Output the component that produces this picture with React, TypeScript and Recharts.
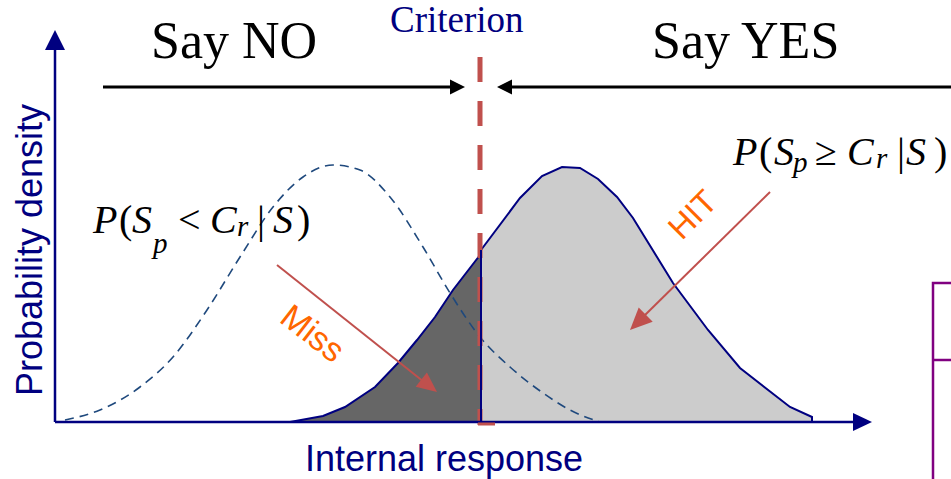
import React from 'react';
import { ComposedChart, Area, Line, XAxis, YAxis, ReferenceLine } from 'recharts';

// Internal response (x) and probability density (y), arbitrary units
const noiseX = [10, 45, 85, 118, 152, 185, 218, 248, 278, 305, 335, 368, 395, 425, 455, 488, 515, 545];
const noiseY = [2, 12, 35, 65, 112, 165, 215, 245, 257, 252, 225, 175, 129, 85, 55, 29, 12, 0];
const missX = [235, 268, 290, 320, 343, 362, 380, 398, 425];
const missY = [0, 6, 15, 35, 59, 82, 105, 132, 167];
const hitX = [426, 465, 487, 507, 525, 543, 562, 578, 618, 653, 685, 735, 757, 757];
const hitY = [172, 224, 246, 255, 254, 243, 225, 204, 139, 92, 54, 15, 5, 0];
const criterion = 425;
const xMax = 817;
const yMax = 392;

const noiseData = noiseX.map((x, i) => ({ x, y: noiseY[i] }));
const missData = missX.map((x, i) => ({ x, y: missY[i] }));
const hitData = hitX.map((x, i) => ({ x, y: hitY[i] }));

const NAVY = '#000080';
const RED = '#c0504d';
const ORANGE = '#ff6600';
const SERIF = '"Liberation Serif", "Times New Roman", serif';
const SANS = '"Liberation Sans", Arial, sans-serif';

type G = { t: string; x: number; it?: boolean; dy?: number };

const Formula = ({ glyphs, y }: { glyphs: G[]; y: number }) => (
  <g fontFamily={SERIF} fill="#000">
    {glyphs.map((g, i) => (
      <text
        key={i}
        x={g.x}
        y={y + (g.dy ?? 0)}
        fontStyle={g.it ? 'italic' : 'normal'}
        fontSize={g.dy !== undefined ? 29 : 40}
      >
        {g.t}
      </text>
    ))}
  </g>
);

const f1: G[] = [
  { t: 'P', x: 93, it: true },
  { t: '(', x: 119 },
  { t: 'S', x: 132, it: true },
  { t: 'p', x: 153, it: true, dy: 20 },
  { t: '<', x: 178 },
  { t: 'C', x: 210, it: true },
  { t: 'r', x: 237, it: true, dy: 3 },
  { t: '|', x: 257 },
  { t: 'S', x: 273, it: true },
  { t: ')', x: 297 },
];
const f2: G[] = [
  { t: 'P', x: 733, it: true },
  { t: '(', x: 759 },
  { t: 'S', x: 774, it: true },
  { t: 'p', x: 793, it: true, dy: 7 },
  { t: '\u2265', x: 815 },
  { t: 'C', x: 847, it: true },
  { t: 'r', x: 876, it: true, dy: 3 },
  { t: '|', x: 897 },
  { t: 'S', x: 906, it: true },
  { t: ')', x: 934 },
];

const Annotations = () => (
  <svg
    width={951}
    height={479}
    style={{ position: 'absolute', left: 0, top: 0, pointerEvents: 'none', overflow: 'visible' }}
  >
    {/* axis arrowheads */}
    <polygon points="55,30 45,50 65,50" fill={NAVY} />
    <polygon points="872,422 853,413 853,431" fill={NAVY} />
    {/* top labels */}
    <text x={151} y={58} fontFamily={SERIF} fontSize={52} fill="#000">Say NO</text>
    <text x={652} y={58} fontFamily={SERIF} fontSize={52} fill="#000">Say YES</text>
    <text x={390} y={32} fontFamily={SERIF} fontSize={37} fill={NAVY}>Criterion</text>
    {/* say no / say yes arrows */}
    <line x1={103} y1={87} x2={452} y2={87} stroke="#000" strokeWidth={3} />
    <polygon points="465,87 450,79.5 450,94.5" fill="#000" />
    <line x1={510} y1={87} x2={951} y2={87} stroke="#000" strokeWidth={3} />
    <polygon points="497,87 512,79.5 512,94.5" fill="#000" />
    {/* axis titles */}
    <text x={42} y={250} fontFamily={SANS} fontSize={36} fill={NAVY} textAnchor="middle" transform="rotate(-90 42 250)">
      Probability density
    </text>
    <text x={444} y={471} fontFamily={SANS} fontSize={36} fill={NAVY} textAnchor="middle">Internal response</text>
    {/* formulas */}
    <Formula glyphs={f1} y={233} />
    <Formula glyphs={f2} y={165} />
    {/* red pointer arrows */}
    <line x1={277} y1={265} x2={424} y2={382} stroke={RED} strokeWidth={2} />
    <polygon points="437,392 415.7,386.7 426.9,372.5" fill={RED} />
    <line x1={770} y1={192} x2={643} y2={317} stroke={RED} strokeWidth={2} />
    <polygon points="630,330 652.7,321.7 638.7,307.5" fill={RED} />
    {/* rotated labels */}
    <text x={313} y={345} fontFamily={SANS} fontSize={34} fill={ORANGE} textAnchor="middle" transform="rotate(38 313 333)">Miss</text>
    <text x={692} y={226} fontFamily={SANS} fontSize={33} fill={ORANGE} textAnchor="middle" transform="rotate(-45 692 214)">HIT</text>
    {/* small red tick under the axis */}
    <line x1={478} y1={424} x2={495} y2={424} stroke={RED} strokeWidth={3} />
    {/* purple box at right edge */}
    <polyline points="951,283 933,283 933,479" fill="none" stroke="#800080" strokeWidth={2.5} />
    <line x1={933} y1={360} x2={951} y2={360} stroke="#800080" strokeWidth={2.5} />
  </svg>
);

export default function App() {
  return (
    <div style={{ position: 'absolute', left: 0, top: 0, width: 951, height: 479, background: '#fff' }}>
      <ComposedChart width={951} height={479} margin={{ top: 30, right: 79, bottom: 57, left: 55 }}>
        <XAxis type="number" dataKey="x" domain={[0, xMax]} hide allowDataOverflow />
        <YAxis type="number" dataKey="y" domain={[0, yMax]} hide allowDataOverflow />
        <Area
          data={missData}
          dataKey="y"
          type="linear"
          fill="#666666"
          fillOpacity={1}
          stroke={NAVY}
          strokeWidth={2}
          isAnimationActive={false}
          dot={false}
          activeDot={false}
        />
        <Area
          data={hitData}
          dataKey="y"
          type="linear"
          fill="#cccccc"
          fillOpacity={1}
          stroke={NAVY}
          strokeWidth={2}
          isAnimationActive={false}
          dot={false}
          activeDot={false}
        />
        <Line
          data={noiseData}
          dataKey="y"
          type="monotone"
          stroke="#1f497d"
          strokeWidth={1.6}
          strokeDasharray="9 6"
          dot={false}
          activeDot={false}
          isAnimationActive={false}
        />
        <ReferenceLine
          segment={[{ x: criterion, y: 365 }, { x: criterion, y: -3 }]}
          stroke={RED}
          strokeWidth={5}
          strokeDasharray="25 19"
          ifOverflow="visible"
        />
        <ReferenceLine
          segment={[{ x: criterion + 1, y: 0 }, { x: criterion + 1, y: 172 }]}
          stroke={NAVY}
          strokeWidth={2}
          ifOverflow="visible"
        />
        <ReferenceLine
          segment={[{ x: 0, y: 0 }, { x: 801, y: 0 }]}
          stroke={NAVY}
          strokeWidth={2.5}
          ifOverflow="visible"
        />
        <ReferenceLine
          segment={[{ x: 0, y: 0 }, { x: 0, y: 374 }]}
          stroke={NAVY}
          strokeWidth={2.5}
          ifOverflow="visible"
        />
      </ComposedChart>
      <Annotations />
    </div>
  );
}
